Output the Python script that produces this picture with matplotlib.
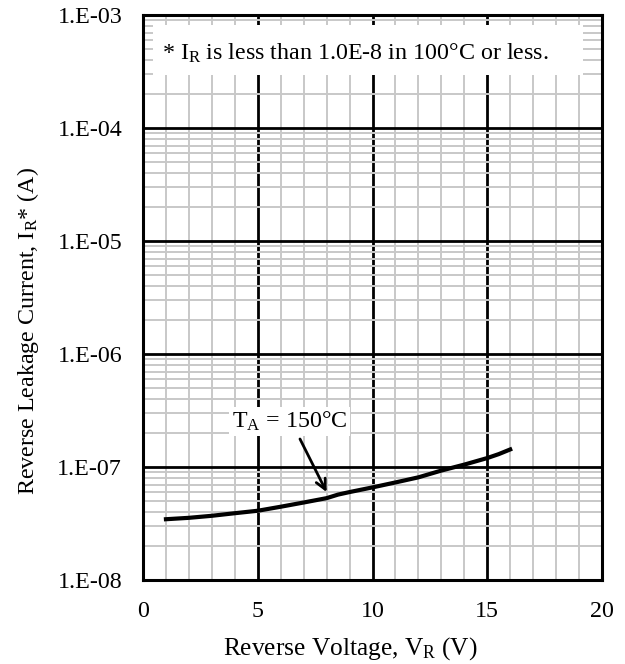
import matplotlib
matplotlib.use("Agg")
import matplotlib.pyplot as plt
from matplotlib.ticker import FixedLocator, FuncFormatter, NullFormatter
from matplotlib.patches import Rectangle
import numpy as np

plt.rcParams['font.family'] = ['Liberation Serif', 'DejaVu Serif']
plt.rcParams['mathtext.fontset'] = 'custom'
plt.rcParams['mathtext.rm'] = 'Liberation Serif'
plt.rcParams['mathtext.it'] = 'Liberation Serif:italic'

# Data (T_A = 150 °C)
vr = [1, 2, 3, 4, 5, 6, 7, 8, 8.5, 9, 10, 11, 12, 13, 14, 15, 15.5, 16]
ir = [3.45e-8, 3.55e-8, 3.7e-8, 3.9e-8, 4.1e-8, 4.45e-8, 4.85e-8, 5.3e-8,
      5.7e-8, 6.0e-8, 6.6e-8, 7.3e-8, 8.1e-8, 9.3e-8, 1.05e-7, 1.2e-7,
      1.3e-7, 1.43e-7]

x_ticks = [0, 5, 10, 15, 20]
y_ticks = [1e-8, 1e-7, 1e-6, 1e-5, 1e-4, 1e-3]

FS = 17.3

fig = plt.figure(figsize=(6.25, 6.64), dpi=100)
ax = fig.add_axes([143/625, 1 - 580/664, (602-143)/625, (580-15)/664])
ax.set_yscale('log')
ax.set_xlim(0, 20)
ax.set_ylim(1e-8, 1e-3)

ax.xaxis.set_major_locator(FixedLocator(x_ticks))
ax.xaxis.set_minor_locator(FixedLocator([v for v in range(0, 21) if v % 5]))
ax.yaxis.set_major_locator(FixedLocator(y_ticks))
minor_y = [m * 10.0**e for e in range(-8, -3) for m in range(2, 10)]
ax.yaxis.set_minor_locator(FixedLocator(minor_y))
ax.yaxis.set_minor_formatter(NullFormatter())
ax.yaxis.set_major_formatter(FuncFormatter(lambda v, p: "1.E-%02d" % round(-np.log10(v))))
ax.xaxis.set_major_formatter(FuncFormatter(lambda v, p: "%d" % v))

ax.grid(which='minor', color='#c8c8c8', linewidth=1.4, zorder=0)
ax.grid(which='major', color='black', linewidth=2.0, zorder=1)
ax.set_axisbelow(True)
ax.tick_params(which='both', length=0, labelsize=FS)
ax.tick_params(axis='x', pad=15)
ax.tick_params(axis='y', pad=15)
for s in ax.spines.values():
    s.set_linewidth(2.2)
    s.set_color('black')

ax.plot(vr, ir, color='black', linewidth=3, zorder=3)

ax.set_xlabel("Reverse Voltage, V$_\\mathrm{R}$ (V)", fontsize=18.3)
ax.set_ylabel("Reverse Leakage Current, I$_\\mathrm{R}$* (A)", fontsize=FS)
ax.xaxis.set_label_coords(0.451, -0.097)
ax.yaxis.set_label_coords(-0.222, 0.44)

# note box
ax.add_patch(Rectangle((0.44, 2.95e-4), 19.17 - 0.44, 8.1e-4 - 2.95e-4,
                       facecolor='white', edgecolor='none', zorder=2))
ax.text(0.83, 4.6e-4, "* I$_\\mathrm{R}$ is less than 1.0E-8 in 100°C or less.",
        fontsize=FS, va='center', ha='left', zorder=4)

ax.text(6.4, 2.55e-7, "T$_\\mathrm{A}$ = 150°C", fontsize=FS,
        ha='center', va='center', zorder=4,
        bbox=dict(facecolor='white', edgecolor='none', pad=2))
ax.annotate("", xy=(8.0, 6.0e-8), xytext=(6.84, 1.77e-7), zorder=4,
            arrowprops=dict(arrowstyle='->', color='black', lw=2.0,
                            mutation_scale=18, shrinkA=0, shrinkB=0))

fig.savefig("out.png", dpi=100)
